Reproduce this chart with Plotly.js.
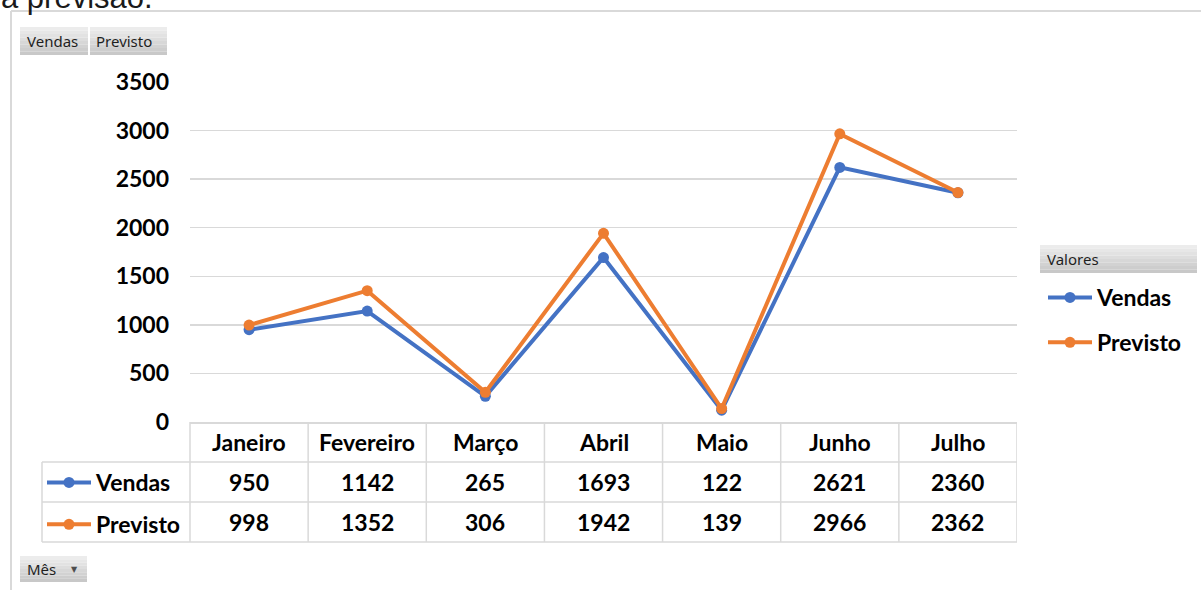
<!DOCTYPE html>
<html>
<head>
<meta charset="utf-8">
<script src="https://cdn.plot.ly/plotly-3.0.1.min.js"></script>
<style>
  html, body { margin: 0; padding: 0; background: #ffffff; }
  #chart { width: 1201px; height: 590px; }
</style>
</head>
<body>
<div id="chart"></div>
<script>
// ---- data ----
const meses = ["Janeiro", "Fevereiro", "Março", "Abril", "Maio", "Junho", "Julho"];
const vendas = [950, 1142, 265, 1693, 122, 2621, 2360];
const previsto = [998, 1352, 306, 1942, 139, 2966, 2362];
const seriesNames = ["Vendas", "Previsto"];
const yTicks = [0, 500, 1000, 1500, 2000, 2500, 3000, 3500];

// ---- layout helpers (pixel -> paper) ----
const L = 190, R = 1017, T = 82, B = 422;
const fx = p => (p - L) / (R - L);
const fy = p => (B - p) / (B - T);

const blue = "#4472C4", orange = "#ED7D31";
const gridCol = "#d9d9d9";
const boldFont = { family: "Lato, 'Open Sans', sans-serif", size: 23, color: "#000000", weight: 700 };
const uiFont = { family: "'Noto Sans', 'Open Sans', sans-serif", size: 15, color: "#1f1f1f" };

const traces = [
  { x: meses, y: vendas, name: seriesNames[0], type: "scatter", mode: "lines+markers",
    line: { color: blue, width: 4 }, marker: { color: blue, size: 11 },
    legend: "legend", legendgroup: "a", hoverinfo: "x+y" },
  { x: meses, y: previsto, name: seriesNames[1], type: "scatter", mode: "lines+markers",
    line: { color: orange, width: 4 }, marker: { color: orange, size: 11 },
    legend: "legend", legendgroup: "b", hoverinfo: "x+y" },
  // legend keys for the data table rows
  { x: meses, y: meses.map(() => null), name: seriesNames[0], type: "scatter", mode: "lines+markers",
    line: { color: blue, width: 4 }, marker: { color: blue, size: 11 },
    legend: "legend2", legendgroup: "c", hoverinfo: "skip" },
  { x: meses, y: meses.map(() => null), name: seriesNames[1], type: "scatter", mode: "lines+markers",
    line: { color: orange, width: 4 }, marker: { color: orange, size: 11 },
    legend: "legend2", legendgroup: "d", hoverinfo: "skip" }
];

// ---- shapes ----
const shapes = [];
function line(x0, y0, x1, y1, xref, color, width) {
  shapes.push({ type: "line", xref: xref || "paper", yref: "paper", x0, y0, x1, y1,
    line: { color: color || gridCol, width: width || 1.5 }, layer: "above" });
}
function gradRect(px0, px1, py0, py1) {
  const n = 8;
  const c0 = [236, 236, 236], c1 = [200, 200, 200];
  for (let i = 0; i < n; i++) {
    const t = i / (n - 1);
    const c = c0.map((v, k) => Math.round(v + (c1[k] - v) * t));
    const ya = py0 + (py1 - py0) * i / n, yb = py0 + (py1 - py0) * (i + 1) / n;
    shapes.push({ type: "rect", xref: "paper", yref: "paper",
      x0: fx(px0), x1: fx(px1), y0: fy(ya), y1: fy(yb),
      fillcolor: `rgb(${c[0]},${c[1]},${c[2]})`, line: { width: 0 }, layer: "below" });
  }
}
// outer frame
line(fx(11), fy(11), fx(1201), fy(11), "paper", "#d9d9d9", 2);
line(fx(11), fy(11), fx(11), fy(590), "paper", "#d9d9d9", 2);
// pivot buttons
gradRect(20, 88, 27, 55);
gradRect(90, 167, 27, 55);
gradRect(20, 87, 556, 582);
gradRect(1040, 1197, 245, 273);
// data table grid
[462, 502, 542].forEach(py => line(fx(42), fy(py), 1, fy(py)));
line(fx(42), fy(462), fx(42), fy(542));
line(0, 0, 0, fy(542));
for (let i = 0; i < meses.length; i++) {
  line(i + 0.5, 0, i + 0.5, fy(542), "x");
}

// ---- annotations ----
const ann = [];
function txt(text, x, y, font, opts) {
  ann.push(Object.assign({ text, x, y, xref: "paper", yref: "paper", showarrow: false,
    font, xanchor: "left", yanchor: "middle", borderpad: 0 }, opts || {}));
}
meses.forEach((m, i) => {
  txt(m, m, fy(442), boldFont, { xref: "x", xanchor: "center" });
  txt(String(vendas[i]), m, fy(482), boldFont, { xref: "x", xanchor: "center" });
  txt(String(previsto[i]), m, fy(522), boldFont, { xref: "x", xanchor: "center" });
});
txt("Vendas", fx(26), fy(41), uiFont);
txt("Previsto", fx(95), fy(41), uiFont);
txt("Mês", fx(26), fy(569), uiFont);
txt("▼", fx(74), fy(569), { family: "'DejaVu Sans', sans-serif", size: 8, color: "#4d4d4d" }, { xanchor: "center" });
txt("Valores", fx(1046), fy(259), uiFont);
txt("a previsão.", fx(0), fy(16), { family: "'Liberation Sans', Arial, sans-serif", size: 31, color: "#1a1a1a" }, { yanchor: "bottom" });

const layout = {
  width: 1201, height: 590, autosize: false,
  margin: { l: L, r: 1201 - R, t: T, b: 590 - B, pad: 0 },
  paper_bgcolor: "#ffffff", plot_bgcolor: "#ffffff",
  showlegend: true,
  xaxis: {
    type: "category", categoryorder: "array", categoryarray: meses,
    range: [-0.5, meses.length - 0.5],
    showgrid: false, zeroline: false, showticklabels: false,
    showline: true, linecolor: gridCol, linewidth: 1.5, ticks: "", fixedrange: true
  },
  yaxis: {
    range: [0, 3500], tickvals: yTicks, ticktext: yTicks.map(String),
    showgrid: true, gridcolor: gridCol, gridwidth: 1.5,
    zeroline: false, showline: false, ticks: "",
    tickfont: boldFont, ticklabelstandoff: 20, fixedrange: true
  },
  legend: {
    x: fx(1043), xanchor: "left", y: fy(276), yanchor: "top",
    font: boldFont, bgcolor: "rgba(0,0,0,0)", traceorder: "grouped",
    tracegroupgap: 12, itemwidth: 44, itemclick: false, itemdoubleclick: false
  },
  legend2: {
    x: fx(42), xanchor: "left", y: fy(461), yanchor: "top",
    font: boldFont, bgcolor: "rgba(0,0,0,0)", traceorder: "grouped",
    tracegroupgap: 9, itemwidth: 44, itemclick: false, itemdoubleclick: false
  },
  shapes, annotations: ann
};

Plotly.newPlot("chart", traces, layout, { displayModeBar: false, staticPlot: true });
</script>
</body>
</html>
